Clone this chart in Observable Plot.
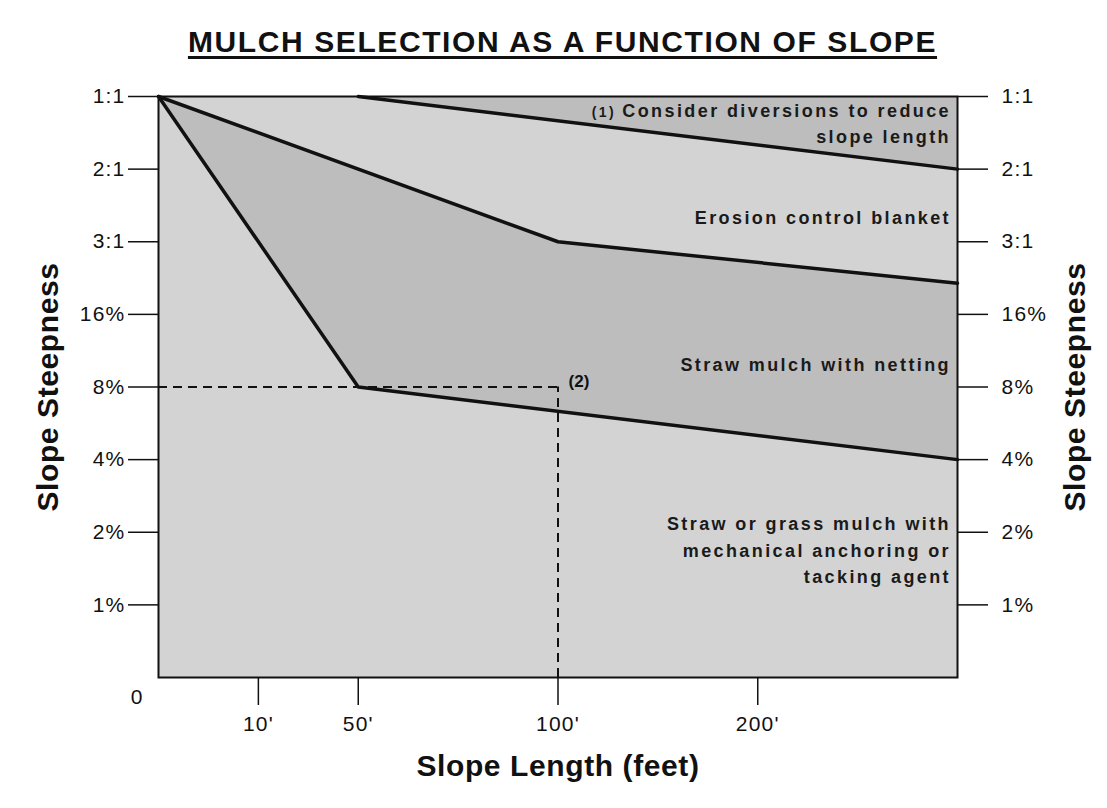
<!DOCTYPE html>
<html>
<head>
<meta charset="utf-8">
<script src="https://cdn.jsdelivr.net/npm/d3@7"></script>
<script src="https://cdn.jsdelivr.net/npm/@observablehq/plot@0.6"></script>
<style>
  html, body { margin: 0; padding: 0; background: #fff; }
  #title {
    height: 70px; box-sizing: border-box; padding-top: 27px; padding-left: 18px;
    text-align: center; font-family: "Liberation Sans", Arial, sans-serif;
    font-weight: bold; font-size: 30px; color: #111; text-decoration: underline;
    text-underline-offset: 4px; text-decoration-thickness: 3px; line-height: 30px;
    letter-spacing: 1.6px;
  }
</style>
</head>
<body>
<div id="title">MULCH SELECTION AS A FUNCTION OF SLOPE</div>
<div id="chart"></div>
<script>
// Slope length positions (index scale) and labels
const lengthTicks = [1, 2, 4, 6];
const lengthLabels = ["10'", "50'", "100'", "200'"];
// Slope steepness positions and labels
const steepTicks = [1, 2, 3, 4, 5, 6, 7, 8];
const steepLabels = ["1%", "2%", "4%", "8%", "16%", "3:1", "2:1", "1:1"];

// Boundary lines (vertices)
const lowerLineX = [0, 2, 8];
const lowerLineY = [8, 4, 3];
const upperLineX = [0, 4, 8];
const upperLineY = [8, 6, 5.43];
const topLineX = [2, 8];
const topLineY = [8, 7];

// Reference point (2): 100' at 8%
const refX = 4;
const refY = 4;

// Region labels
const regionText = [
  "(1) Consider diversions to reduce\nslope length",
  "Erosion control blanket",
  "Straw mulch with netting",
  "Straw or grass mulch with\nmechanical anchoring or\ntacking agent"
];
const regionY = [7.665, 6.36, 4.34, 1.78];

const pts = (xs, ys) => xs.map((x, i) => ({x, y: ys[i]}));
const lowerLine = pts(lowerLineX, lowerLineY);
const upperLine = pts(upperLineX, upperLineY);
const topLine = pts(topLineX, topLineY);
// shaded polygons built from the line vertices
const netPoly = lowerLine.concat(upperLine.slice().reverse());
const divPoly = topLine.concat([{x: topLineX[topLineX.length - 1], y: topLineY[0]}]);
const regions = regionText.map((t, i) => ({t, x: 8, y: regionY[i]}));

const font = "Liberation Sans, Arial, sans-serif";
const light = "#d3d3d3", dark = "#bdbdbd", ink = "#111";

const chart = Plot.plot({
  width: 1107, height: 738,
  marginLeft: 158, marginRight: 150, marginTop: 26, marginBottom: 131,
  style: {fontFamily: font, background: "#fff"},
  x: {domain: [0, 8]},
  y: {domain: [0, 8]},
  marks: [
    Plot.frame({fill: light, stroke: null}),
    Plot.line(netPoly, {x: "x", y: "y", fill: dark, stroke: null}),
    Plot.line(divPoly, {x: "x", y: "y", fill: dark, stroke: null}),
    Plot.ruleY([refY], {x1: 0, x2: refX, stroke: ink, strokeWidth: 2, strokeDasharray: "9,6"}),
    Plot.ruleX([refX], {y1: 0, y2: refY, stroke: ink, strokeWidth: 2, strokeDasharray: "9,6"}),
    Plot.line(lowerLine, {x: "x", y: "y", stroke: ink, strokeWidth: 3.5}),
    Plot.line(upperLine, {x: "x", y: "y", stroke: ink, strokeWidth: 3.5}),
    Plot.line(topLine, {x: "x", y: "y", stroke: ink, strokeWidth: 3.5}),
    Plot.frame({stroke: ink, strokeWidth: 2}),
    Plot.text(["(2)"], {x: refX, y: refY, dx: 21, dy: -5, fontWeight: "bold", fontSize: 17, fill: ink}),
    Plot.text(regions, {x: "x", y: "y", text: "t", textAnchor: "end", dx: -6.5, fontWeight: "bold",
      fontSize: 18, lineHeight: 1.45, fill: "#1a1a1a"}),
    Plot.axisY({anchor: "left", ticks: steepTicks, tickFormat: d => steepLabels[d - 1], tickSize: 30,
      tickPadding: 3, fontSize: 21, stroke: ink, strokeWidth: 1.5, color: "#111", label: null}),
    Plot.axisY({anchor: "right", ticks: steepTicks, tickFormat: d => steepLabels[d - 1], tickSize: 30,
      tickPadding: 14, fontSize: 21, stroke: ink, strokeWidth: 1.5, color: "#111", label: null}),
    Plot.axisX({anchor: "bottom", ticks: lengthTicks, tickFormat: d => lengthLabels[lengthTicks.indexOf(d)],
      tickSize: 28, tickPadding: 11, fontSize: 21, stroke: ink, strokeWidth: 1.5, color: "#111", label: null}),
    Plot.text(["0"], {x: 0, y: 0, dx: -22, dy: 20, fontSize: 21, fill: "#111"}),
    Plot.text(["Slope Steepness"], {frameAnchor: "left", textAnchor: "middle", dx: -110, rotate: -90,
      fontSize: 30, fontWeight: "bold", fill: ink}),
    Plot.text(["Slope Steepness"], {frameAnchor: "right", textAnchor: "middle", dx: 118, rotate: -90,
      fontSize: 30, fontWeight: "bold", fill: ink}),
    Plot.text(["Slope Length (feet)"], {frameAnchor: "bottom", textAnchor: "middle", dy: 98,
      fontSize: 30, fontWeight: "bold", fill: ink})
  ]
});
document.getElementById("chart").appendChild(chart);

// letter spacing tweaks
const regionFirstLines = regionText.map(t => t.split("\n")[0]);
const axisTitles = ["Slope Steepness", "Slope Length (feet)"];
d3.select(chart).selectAll("text").each(function() {
  const s = this.textContent;
  if (regionFirstLines.some(f => s.startsWith(f))) this.style.letterSpacing = "2.4px";
  else if (steepLabels.includes(s) || lengthLabels.includes(s)) this.style.letterSpacing = "1.2px";
  else if (axisTitles.includes(s)) this.style.letterSpacing = "0.6px";
});
// smaller footnote marker "(1)"
d3.select(chart).selectAll("tspan").each(function() {
  const s = this.textContent;
  if (s.startsWith("(1) ")) {
    const ns = "http://www.w3.org/2000/svg";
    const mark = document.createElementNS(ns, "tspan");
    mark.textContent = "(1) ";
    mark.setAttribute("font-size", "14");
    for (const a of ["x", "y", "dy"]) {
      if (this.hasAttribute(a)) { mark.setAttribute(a, this.getAttribute(a)); this.removeAttribute(a); }
    }
    this.textContent = s.slice(4);
    this.parentNode.insertBefore(mark, this);
  }
});
</script>
</body>
</html>
